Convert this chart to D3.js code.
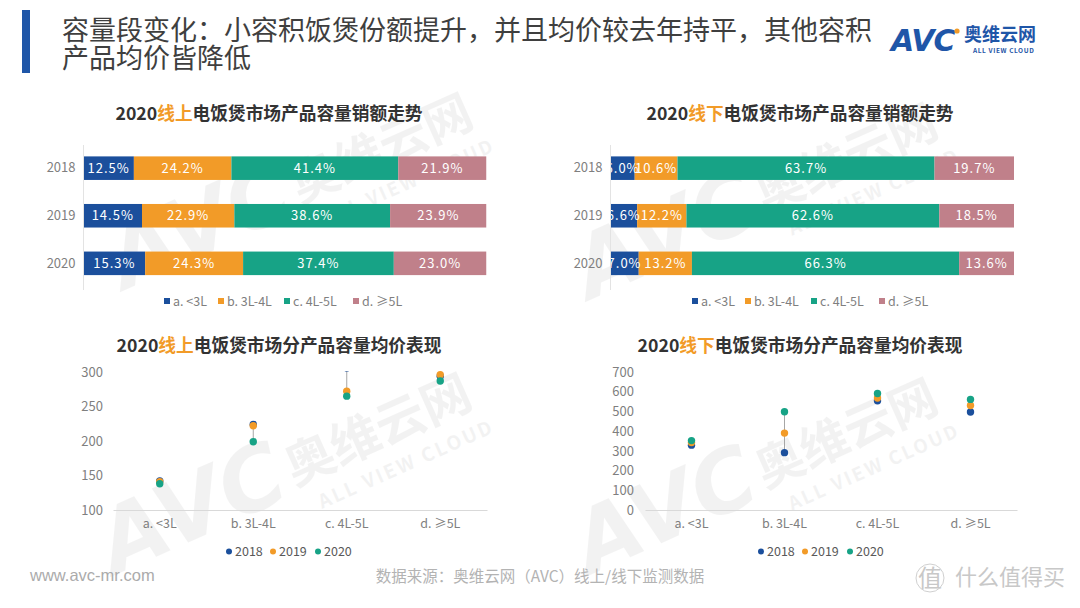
<!DOCTYPE html>
<html><head><meta charset="utf-8">
<script src="https://cdn.jsdelivr.net/npm/d3@7"></script>
<style>body{margin:0;background:#fff}svg{display:block}</style>
</head><body>
<svg id="c" width="1080" height="608"></svg>
<script>
// ---------- DATA ----------
const years = ["2018", "2019", "2020"];
const segments = ["a. <3L", "b. 3L-4L", "c. 4L-5L", "d. ≥5L"];
const onlineShares = [
  [12.5, 24.2, 41.4, 21.9],
  [14.5, 22.9, 38.6, 23.9],
  [15.3, 24.3, 37.4, 23.0]
];
const offlineShares = [
  [6.0, 10.6, 63.7, 19.7],
  [6.6, 12.2, 62.6, 18.5],
  [7.0, 13.2, 66.3, 13.6]
];
const onlinePrice2018 = [142, 224, 306, 294];
const onlinePrice2019 = [141, 222, 272, 296];
const onlinePrice2020 = [138, 199, 265, 287];
const offlinePrice2018 = [329, 291, 554, 497];
const offlinePrice2019 = [342, 390, 568, 530];
const offlinePrice2020 = [352, 498, 591, 561];
const onlineTicks = [100, 150, 200, 250, 300];
const offlineTicks = [0, 100, 200, 300, 400, 500, 600, 700];

const segColors = ["#1b4f9c", "#f29b28", "#17a386", "#c0808a"];
const yearColors = ["#1b4f9c", "#f29b28", "#17a386"];
const FONT = "'Noto Sans CJK SC','Noto Sans',sans-serif";

const svg = d3.select("#c").style("font-family", FONT);

// ---------- WATERMARKS (behind) ----------
function watermark(tx, ty, s) {
  const w = svg.append("g").attr("transform", `translate(${tx},${ty}) rotate(-24) scale(${s})`)
    .attr("fill", "#8c8c8c").attr("opacity", 0.1).style("pointer-events", "none");
  w.append("text").attr("x", 0).attr("y", 0).attr("font-size", 110).attr("font-weight", "bold")
    .attr("font-style", "italic").attr("font-family", "'DejaVu Sans',sans-serif").text("AVC");
  w.append("text").attr("x", 250).attr("y", -10).attr("font-size", 62).attr("font-weight", "bold").text("奥维云网");
  w.append("text").attr("x", 270).attr("y", 30).attr("font-size", 24).attr("font-weight", "bold")
    .attr("letter-spacing", 3).text("ALL VIEW CLOUD");
}
watermark(125, 290, 0.78);
watermark(115, 575, 0.8);
watermark(590, 300, 0.78);
watermark(590, 575, 0.78);

// ---------- HEADER ----------
svg.append("rect").attr("x", 22).attr("y", 10).attr("width", 8).attr("height", 63).attr("fill", "#1f56a8");
svg.append("text").attr("x", 62).attr("y", 40).attr("font-size", 27).attr("fill", "#3f3f3f")
  .text("容量段变化：小容积饭煲份额提升，并且均价较去年持平，其他容积");
svg.append("text").attr("x", 62).attr("y", 68).attr("font-size", 27).attr("fill", "#3f3f3f")
  .text("产品均价皆降低");
// logo
const logo = svg.append("g");
logo.append("text").attr("x", 891).attr("y", 51).attr("font-size", 30).attr("font-weight", "bold")
  .attr("font-style", "italic").attr("fill", "#1f56a8").attr("font-family", "'DejaVu Sans',sans-serif")
  .attr("letter-spacing", -1).text("AVC");
logo.append("circle").attr("cx", 957).attr("cy", 31).attr("r", 2.6).attr("fill", "#f29b28");
logo.append("text").attr("x", 964).attr("y", 41).attr("font-size", 18).attr("font-weight", "bold")
  .attr("fill", "#1f56a8").text("奥维云网");
logo.append("text").attr("x", 973).attr("y", 53).attr("font-size", 6.5).attr("font-weight", "bold")
  .attr("fill", "#1f56a8").attr("letter-spacing", 0.6).text("ALL VIEW CLOUD");

// ---------- STACKED BAR CHART ----------
function barChart(cfg) {
  const g = svg.append("g");
  const x = d3.scaleLinear().domain([0, 1]).range([cfg.x0, cfg.x1]);
  const y = d3.scaleBand().domain(years).range([144.5, 287]).paddingInner(0.505).paddingOuter(0.25);
  const rows = cfg.data.map((r, i) => { const o = { year: years[i] }; r.forEach((v, j) => o["k" + j] = v); return o; });
  const keys = segments.map((s, j) => "k" + j);
  const series = d3.stack().keys(keys).offset(d3.stackOffsetExpand)(rows);

  const t = g.append("text").attr("x", cfg.cx).attr("y", 120).attr("text-anchor", "middle")
    .attr("font-size", 17.7).attr("font-weight", "bold").attr("fill", "#333");
  t.append("tspan").text("2020");
  t.append("tspan").attr("fill", "#f29b28").text(cfg.chan);
  t.append("tspan").text("电饭煲市场产品容量销额走势");

  const clipId = "clip" + cfg.id;
  g.append("clipPath").attr("id", clipId).append("rect")
    .attr("x", cfg.x0).attr("y", 140).attr("width", cfg.x1 - cfg.x0).attr("height", 150);

  const layers = g.append("g").attr("clip-path", `url(#${clipId})`);
  series.forEach((s, j) => {
    layers.selectAll(null).data(s).join("rect")
      .attr("x", d => x(d[0])).attr("width", d => x(d[1]) - x(d[0]))
      .attr("y", d => y(d.data.year)).attr("height", y.bandwidth())
      .attr("fill", segColors[j]);
  });
  series.forEach((s, j) => {
    layers.selectAll(null).data(s).join("text")
      .attr("x", d => (x(d[0]) + x(d[1])) / 2).attr("y", d => y(d.data.year) + y.bandwidth() / 2 + 4.5)
      .attr("text-anchor", "middle").attr("font-size", 13).attr("fill", "#fff")
      .attr("letter-spacing", 1)
      .text(d => d.data["k" + j].toFixed(1) + "%");
  });

  const ax = g.append("g").attr("transform", `translate(${cfg.x0},0)`)
    .call(d3.axisLeft(y).tickSize(0).tickPadding(8));
  ax.select(".domain").remove();
  ax.selectAll("text").attr("font-size", 13).attr("fill", "#7f7f7f").attr("font-family", FONT);
  g.append("line").attr("x1", cfg.x0).attr("x2", cfg.x0).attr("y1", 145).attr("y2", 290)
    .attr("stroke", "#e3e3e3");

  const lg = g.append("g");
  segments.forEach((s, j) => {
    lg.append("rect").attr("x", cfg.legX[j]).attr("y", 298).attr("width", 6).attr("height", 6).attr("fill", segColors[j]);
    lg.append("text").attr("x", cfg.legX[j] + 9).attr("y", 305.5).attr("font-size", 12.5)
      .attr("fill", "#7f7f7f").text(s);
  });
}

barChart({ id: "a", x0: 83.5, x1: 486.5, cx: 269, chan: "线上", data: onlineShares, legX: [164, 218, 284, 353] });
barChart({ id: "b", x0: 610.5, x1: 1014, cx: 800, chan: "线下", data: offlineShares, legX: [692, 745, 811, 879] });

// ---------- DOT / HIGH-LOW CHART ----------
function dotChart(cfg) {
  const g = svg.append("g");
  const x = d3.scaleBand().domain(segments).range([cfg.x0, cfg.x1]);
  const y = d3.scaleLinear().domain(cfg.domain).range([510, 372]);
  const sets = [cfg.p18, cfg.p19, cfg.p20];

  const t = g.append("text").attr("x", cfg.cx).attr("y", 352).attr("text-anchor", "middle")
    .attr("font-size", 17.7).attr("font-weight", "bold").attr("fill", "#333");
  t.append("tspan").text("2020");
  t.append("tspan").attr("fill", "#f29b28").text(cfg.chan);
  t.append("tspan").text("电饭煲市场分产品容量均价表现");

  const ya = g.append("g").attr("transform", `translate(${cfg.x0},0)`)
    .call(d3.axisLeft(y).tickValues(cfg.ticks).tickSize(0).tickPadding(cfg.tp));
  ya.select(".domain").remove();
  ya.selectAll("text").attr("font-size", 13).attr("fill", "#7f7f7f").attr("font-family", FONT);

  const xa = g.append("g").attr("transform", `translate(0,510)`)
    .call(d3.axisBottom(x).tickSize(0).tickPadding(9));
  xa.select(".domain").attr("stroke", "#d9d9d9");
  xa.selectAll("text").attr("font-size", 12.5).attr("fill", "#7f7f7f").attr("font-family", FONT);

  const clipId = "dclip" + cfg.id;
  g.append("clipPath").attr("id", clipId).append("rect")
    .attr("x", cfg.x0).attr("y", 371).attr("width", cfg.x1 - cfg.x0).attr("height", 145);
  const pg = g.append("g").attr("clip-path", `url(#${clipId})`);

  segments.forEach((s, i) => {
    const vals = sets.map(a => a[i]);
    pg.append("line").attr("x1", x(s) + x.bandwidth() / 2).attr("x2", x(s) + x.bandwidth() / 2)
      .attr("y1", y(d3.max(vals))).attr("y2", y(d3.min(vals)))
      .attr("stroke", "#a6a6a6").attr("stroke-width", 1);
  });
  sets.forEach((arr, k) => {
    pg.selectAll(null).data(arr).join("circle")
      .attr("cx", (d, i) => x(segments[i]) + x.bandwidth() / 2)
      .attr("cy", d => y(d)).attr("r", 3.7).attr("fill", yearColors[k]);
  });

  years.forEach((yr, k) => {
    g.append("circle").attr("cx", cfg.legX[k]).attr("cy", 551.5).attr("r", 3).attr("fill", yearColors[k]);
    g.append("text").attr("x", cfg.legX[k] + 6).attr("y", 556).attr("font-size", 12.5)
      .attr("fill", "#595959").text(yr);
  });
}

dotChart({ id: "a", x0: 113, x1: 487, cx: 279, chan: "线上", domain: [100, 300], ticks: onlineTicks, tp: 10,
  p18: onlinePrice2018, p19: onlinePrice2019, p20: onlinePrice2020, legX: [229, 273, 318] });
dotChart({ id: "b", x0: 645, x1: 1017, cx: 800, chan: "线下", domain: [0, 700], ticks: offlineTicks, tp: 11,
  p18: offlinePrice2018, p19: offlinePrice2019, p20: offlinePrice2020, legX: [761, 805, 850] });

// ---------- FOOTER ----------
svg.append("text").attr("x", 30).attr("y", 581).attr("font-size", 16.5).attr("fill", "#ababab")
  .attr("font-family", "'Liberation Sans Narrow','Liberation Sans',sans-serif").text("www.avc-mr.com");
svg.append("text").attr("x", 540).attr("y", 582).attr("text-anchor", "middle").attr("font-size", 15.5)
  .attr("fill", "#b3b3b3").text("数据来源：奥维云网（AVC）线上/线下监测数据");
svg.append("text").attr("x", 918).attr("y", 587).attr("font-size", 24).attr("fill", "#c8c8c8")
  .text("值");
svg.append("circle").attr("cx", 930).attr("cy", 578).attr("r", 14).attr("fill", "none").attr("stroke", "#d0d0d0");
svg.append("text").attr("x", 955).attr("y", 585).attr("font-size", 22).attr("fill", "#c8c8c8")
  .text("什么值得买");
</script>
</body></html>
